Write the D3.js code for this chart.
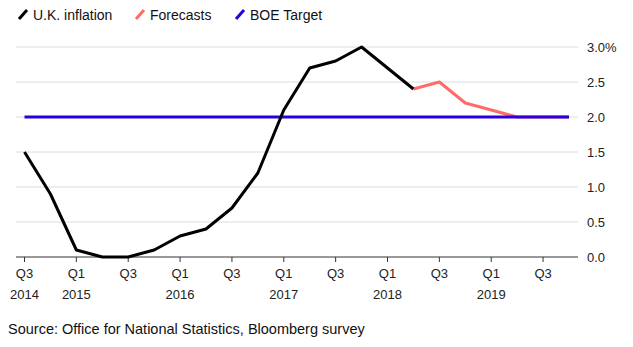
<!DOCTYPE html>
<html><head><meta charset="utf-8">
<script src="https://cdn.jsdelivr.net/npm/d3@7"></script>
<style>body{margin:0;background:#fff;}svg{display:block;font-family:"Liberation Sans",Arial,sans-serif;}</style>
</head><body><svg id="c" width="633" height="347"></svg>
<script>
const quarters = ["2014Q3","2014Q4","2015Q1","2015Q2","2015Q3","2015Q4","2016Q1","2016Q2","2016Q3","2016Q4","2017Q1","2017Q2","2017Q3","2017Q4","2018Q1","2018Q2","2018Q3","2018Q4","2019Q1","2019Q2","2019Q3","2019Q4"];
const inflation = [1.5,0.9,0.1,0.0,0.0,0.1,0.3,0.4,0.7,1.2,2.1,2.7,2.8,3.0,2.7,2.4];
const forecastStart = 15;
const forecasts = [2.4,2.5,2.2,2.1,2.0,2.0,2.0];
const boeTarget = 2.0;
const yTicks = [0,0.5,1,1.5,2,2.5,3];
const xTickQuarters = ["2014Q3","2015Q1","2015Q3","2016Q1","2016Q3","2017Q1","2017Q3","2018Q1","2018Q3","2019Q1","2019Q3"];
const legend = [{label:"U.K. inflation",color:"#000000"},{label:"Forecasts",color:"#ff6b6b"},{label:"BOE Target",color:"#2a00dd"}];
const source = "Source: Office for National Statistics, Bloomberg survey";

const svg = d3.select("#c");
const x = d3.scalePoint().domain(quarters).range([24.5, 569]);
const y = d3.scaleLinear().domain([0,3]).range([257,47]);
const gridL = 16, gridR = 578;

svg.append("g").selectAll("line").data(yTicks.filter(d=>d>0)).join("line")
  .attr("x1",gridL).attr("x2",gridR).attr("y1",d=>y(d)).attr("y2",d=>y(d))
  .attr("stroke","#dcdcdc").attr("stroke-width",1);

svg.append("g").selectAll("text").data(yTicks).join("text")
  .attr("x",587).attr("y",d=>y(d)+4.5).attr("font-size",13).attr("fill","#222")
  .text(d=> d===3 ? "3.0%" : d3.format(".1f")(d));

const xAxis = svg.append("g").attr("transform","translate(0,257)");
xAxis.append("line").attr("x1",gridL).attr("x2",gridR).attr("stroke","#333").attr("stroke-width",1);
xAxis.selectAll(".t").data(xTickQuarters).join("line")
  .attr("x1",d=>x(d)).attr("x2",d=>x(d)).attr("y1",0).attr("y2",5).attr("stroke","#333");
xAxis.selectAll(".q").data(xTickQuarters).join("text")
  .attr("x",d=>x(d)).attr("y",21).attr("text-anchor","middle").attr("font-size",13).attr("fill","#222")
  .text(d=>d.slice(4));
xAxis.selectAll(".yr").data(xTickQuarters.filter(d=>d.endsWith("Q1")||d==="2014Q3")).join("text")
  .attr("x",d=>x(d)).attr("y",42).attr("text-anchor","middle").attr("font-size",13).attr("fill","#222")
  .text(d=>d.slice(0,4));

const line = d3.line().x(d=>x(d.q)).y(d=>y(d.v));
svg.append("path").datum(forecasts.map((v,i)=>({q:quarters[forecastStart+i],v})))
  .attr("d",line).attr("fill","none").attr("stroke","#ff6b6b").attr("stroke-width",3).attr("stroke-linejoin","round");
svg.append("path").datum(quarters.map(q=>({q,v:boeTarget})))
  .attr("d",line).attr("fill","none").attr("stroke","#2a00dd").attr("stroke-width",3);
svg.append("path").datum(inflation.map((v,i)=>({q:quarters[i],v})))
  .attr("d",line).attr("fill","none").attr("stroke","#000").attr("stroke-width",3).attr("stroke-linejoin","round");

const lx = [18,135,235];
const lg = svg.append("g");
legend.forEach((d,i)=>{
  lg.append("line").attr("x1",lx[i]+1).attr("y1",19).attr("x2",lx[i]+9).attr("y2",10)
    .attr("stroke",d.color).attr("stroke-width",3);
  lg.append("text").attr("x",lx[i]+15).attr("y",19.5).attr("font-size",14).attr("fill","#111").text(d.label);
});

svg.append("text").attr("x",8).attr("y",334).attr("font-size",14.5).attr("fill","#111").text(source);
</script></body></html>
